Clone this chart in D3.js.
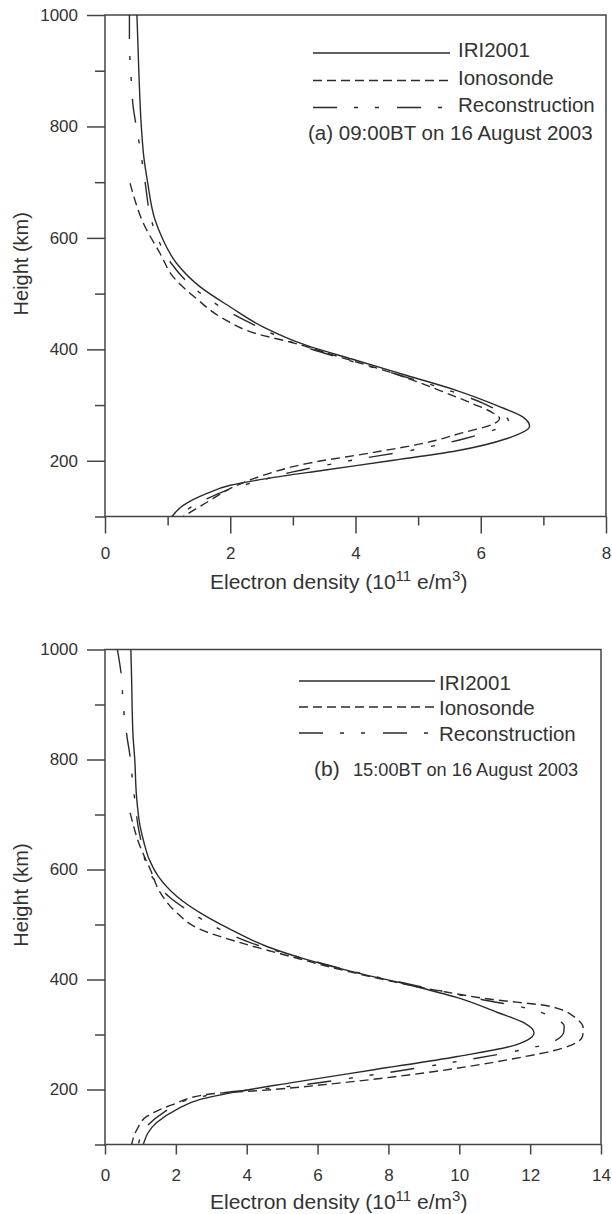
<!DOCTYPE html>
<html><head><meta charset="utf-8">
<script src="https://cdn.jsdelivr.net/npm/d3@7"></script>
<style>
body{margin:0;background:#fff}
svg{display:block}
text{font-family:"Liberation Sans",Arial,Helvetica,sans-serif;fill:#333}
</style>
</head><body><svg id="c" width="612" height="1214"></svg>
<script>
// ---------- DATA ----------
const seriesNames = ["IRI2001", "Ionosonde", "Reconstruction"];
const yMajorTicks = [200, 400, 600, 800, 1000];
const yMinorTicks = [100, 300, 500, 700, 900];
const xMajorTicksA = [0, 2, 4, 6, 8];
const xMinorTicksA = [1, 3, 5, 7];
const xMajorTicksB = [0, 2, 4, 6, 8, 10, 12, 14];
const titleA = "(a) 09:00BT on 16 August 2003";
const titleBLabel = "(b)";
const titleBRest = "15:00BT on 16 August 2003";

// Panel (a) 09:00BT — heights (km) and electron density (1e11 e/m^3)
const hA_IRI = [1000, 900, 800, 745, 700, 632, 602, 554, 512, 476, 440, 407, 380, 353, 326, 299, 278, 262, 240, 218, 200, 183, 168, 156, 141, 120, 100];
const nA_IRI = [0.51, 0.54, 0.58, 0.62, 0.68, 0.80, 0.905, 1.145, 1.52, 2.0, 2.53, 3.22, 4.02, 4.82, 5.62, 6.26, 6.68, 6.78, 6.42, 5.62, 4.55, 3.49, 2.58, 2.0, 1.62, 1.25, 1.07];
const hA_Iono = [698, 650, 632, 572, 530, 491, 455, 428, 413, 386, 359, 326, 302, 287, 276, 265, 250, 233, 215, 195, 174, 153, 129, 100];
const nA_Iono = [0.40, 0.53, 0.59, 0.88, 1.09, 1.46, 1.89, 2.42, 2.96, 3.75, 4.55, 5.35, 5.88, 6.18, 6.3, 6.18, 5.7, 5.15, 4.29, 3.22, 2.53, 2.05, 1.68, 1.25];
const hA_Rec = [1000, 950, 900, 873, 835, 800, 761, 700, 632, 600, 554, 512, 476, 440, 407, 380, 353, 326, 300, 282, 268, 255, 240, 220, 200, 180, 165, 150, 130, 115, 100];
const nA_Rec = [0.39, 0.39, 0.41, 0.425, 0.45, 0.50, 0.56, 0.64, 0.74, 0.84, 1.06, 1.40, 1.85, 2.45, 3.12, 3.9, 4.72, 5.5, 6.1, 6.38, 6.45, 6.2, 5.75, 4.95, 3.9, 3.0, 2.5, 2.02, 1.6, 1.35, 1.18];

// Panel (b) 15:00BT
const hB_IRI = [1000, 950, 845, 800, 733, 679, 649, 618, 588, 551, 521, 491, 460, 436, 412, 391, 367, 340, 321, 303, 282, 260, 236, 212, 197, 182, 164, 140, 100];
const nB_IRI = [0.73, 0.75, 0.79, 0.84, 0.89, 0.99, 1.10, 1.25, 1.50, 2.03, 2.69, 3.54, 4.57, 5.70, 7.12, 8.53, 9.95, 11.08, 11.83, 12.11, 11.64, 9.95, 7.59, 5.23, 3.82, 2.69, 2.03, 1.46, 1.08];
const hB_Iono = [703, 642, 600, 558, 521, 491, 467, 442, 418, 397, 379, 364, 351, 327, 312, 297, 276, 254, 230, 212, 200, 191, 173, 151, 127, 100];
const nB_Iono = [0.71, 0.99, 1.28, 1.56, 2.03, 2.69, 3.82, 5.23, 6.65, 8.06, 9.47, 10.89, 12.58, 13.34, 13.5, 13.48, 12.96, 11.36, 9.0, 6.65, 4.76, 2.87, 1.93, 1.18, 0.90, 0.75];
const hB_Rec = [1000, 947, 915, 876, 842, 795, 758, 722, 680, 642, 600, 551, 521, 491, 467, 442, 418, 397, 379, 364, 348, 333, 315, 305, 285, 273, 251, 227, 206, 194, 182, 158, 133, 100];
const nB_Rec = [0.35, 0.47, 0.50, 0.55, 0.62, 0.73, 0.78, 0.85, 0.93, 1.05, 1.22, 1.80, 2.45, 3.25, 4.1, 5.4, 6.8, 8.2, 9.5, 10.6, 11.9, 12.58, 12.96, 12.95, 12.58, 11.83, 9.95, 7.59, 5.23, 3.35, 2.40, 1.65, 1.18, 0.94];

// ---------- STYLE ----------
const FONT = '"Liberation Sans",Arial,Helvetica,sans-serif';
const INK = "#2a2a2a";
const AXIS = "#444";
const dashes = {IRI2001: null, Ionosonde: "9,5", Reconstruction: "24,17,4,17,4,18"};

const svg = d3.select("#c");
svg.append("rect").attr("width", 612).attr("height", 1214).attr("fill", "#fff");

function zip(h, n) { return h.map((v, i) => ({h: v, n: n[i]})); }

function panel(cfg) {
  const x = d3.scaleLinear().domain([0, cfg.xMax]).range([105, cfg.right]);
  const y = d3.scaleLinear().domain([100, 1000]).range([cfg.bottom, cfg.top]);
  const g = svg.append("g");

  const clipId = "clip" + cfg.id;
  g.append("clipPath").attr("id", clipId).append("rect")
    .attr("x", 105).attr("y", cfg.top).attr("width", cfg.right - 105).attr("height", cfg.bottom - cfg.top);

  const styleAxis = s => {
    s.attr("font-family", FONT).attr("font-size", 17);
    s.select(".domain").remove();
    s.selectAll("line").attr("stroke", AXIS).attr("stroke-width", 1.5);
    s.selectAll("text").attr("fill", "#333");
  };
  g.append("g").attr("transform", "translate(105,0)")
    .call(d3.axisLeft(y).tickValues(yMajorTicks).tickFormat(d3.format("d")).tickSize(18).tickPadding(9).tickSizeOuter(0))
    .call(styleAxis);
  g.append("g").attr("transform", "translate(105,0)")
    .call(d3.axisLeft(y).tickValues(yMinorTicks).tickSize(10).tickFormat("").tickSizeOuter(0))
    .call(styleAxis);

  g.append("g").attr("transform", `translate(0,${cfg.bottom})`)
    .call(d3.axisBottom(x).tickValues(cfg.xMajor).tickFormat(d3.format("d")).tickSize(cfg.xTick).tickSizeOuter(0))
    .call(styleAxis)
    .call(s => s.selectAll("text").attr("dy", null).attr("y", cfg.xLabelOff));
  if (cfg.xMinor.length) {
    g.append("g").attr("transform", `translate(0,${cfg.bottom})`)
      .call(d3.axisBottom(x).tickValues(cfg.xMinor).tickSize(9).tickFormat("").tickSizeOuter(0))
      .call(styleAxis);
  }

  g.append("rect").attr("x", 105).attr("y", cfg.top)
    .attr("width", cfg.right - 105).attr("height", cfg.bottom - cfg.top)
    .attr("fill", "none").attr("stroke", AXIS).attr("stroke-width", 1.5);

  const line = d3.line().x(d => x(d.n)).y(d => y(d.h)).curve(d3.curveMonotoneY);
  const lg = g.append("g").attr("clip-path", `url(#${clipId})`);
  cfg.series.forEach(s => {
    lg.append("path").datum(zip(s.h, s.n))
      .attr("d", line).attr("fill", "none").attr("stroke", INK)
      .attr("stroke-width", 1.4).attr("stroke-linejoin", "round")
      .attr("stroke-dasharray", dashes[s.name]);
  });

  const xt = g.append("text").attr("x", 210).attr("y", cfg.xTitleY)
    .attr("font-size", 21).attr("font-family", FONT);
  xt.append("tspan").text("Electron density (10");
  xt.append("tspan").attr("font-size", 15).attr("dy", -8).text("11");
  xt.append("tspan").attr("dy", 8).text(" e/m");
  xt.append("tspan").attr("font-size", 15).attr("dy", -8).text("3");
  xt.append("tspan").attr("dy", 8).text(")");

  g.append("text").attr("transform", `translate(28,${(cfg.top + cfg.bottom) / 2 - 2}) rotate(-90)`)
    .attr("text-anchor", "middle").attr("font-size", 20).attr("font-family", FONT)
    .text("Height (km)");

  const L = cfg.legend;
  seriesNames.forEach((name, i) => {
    g.append("line").attr("x1", L.x1).attr("x2", L.x2)
      .attr("y1", L.lineY[i]).attr("y2", L.lineY[i])
      .attr("stroke", INK).attr("stroke-width", 1.4)
      .attr("stroke-dasharray", dashes[name]);
    g.append("text").attr("x", L.tx).attr("y", L.textY[i])
      .attr("font-size", 20.5).attr("font-family", FONT).text(name);
  });
  return g;
}

const gA = panel({
  id: "A", xMax: 8, right: 606, top: 15, bottom: 516.5,
  xMajor: xMajorTicksA, xMinor: xMinorTicksA, xTick: 17, xLabelOff: 42, xTitleY: 589,
  series: [
    {name: "IRI2001", h: hA_IRI, n: nA_IRI},
    {name: "Ionosonde", h: hA_Iono, n: nA_Iono},
    {name: "Reconstruction", h: hA_Rec, n: nA_Rec}
  ],
  legend: {x1: 313, x2: 450, tx: 458, lineY: [53, 80.5, 107.5], textY: [57, 84.5, 111.5]}
});
gA.append("text").attr("x", 308).attr("y", 139.5).attr("font-size", 20.5)
  .attr("font-family", FONT).text(titleA);

const gB = panel({
  id: "B", xMax: 14, right: 601, top: 649.5, bottom: 1144.5,
  xMajor: xMajorTicksB, xMinor: [], xTick: 10, xLabelOff: 36, xTitleY: 1209,
  series: [
    {name: "IRI2001", h: hB_IRI, n: nB_IRI},
    {name: "Ionosonde", h: hB_Iono, n: nB_Iono},
    {name: "Reconstruction", h: hB_Rec, n: nB_Rec}
  ],
  legend: {x1: 299, x2: 435, tx: 439, lineY: [681, 707, 733], textY: [690, 715, 740.5]}
});
const tb = gB.append("text").attr("x", 314).attr("y", 776).attr("font-family", FONT);
tb.append("tspan").attr("font-size", 21).text(titleBLabel);
tb.append("tspan").attr("x", 353).attr("font-size", 18.2).text(titleBRest);
</script>
</body></html>
